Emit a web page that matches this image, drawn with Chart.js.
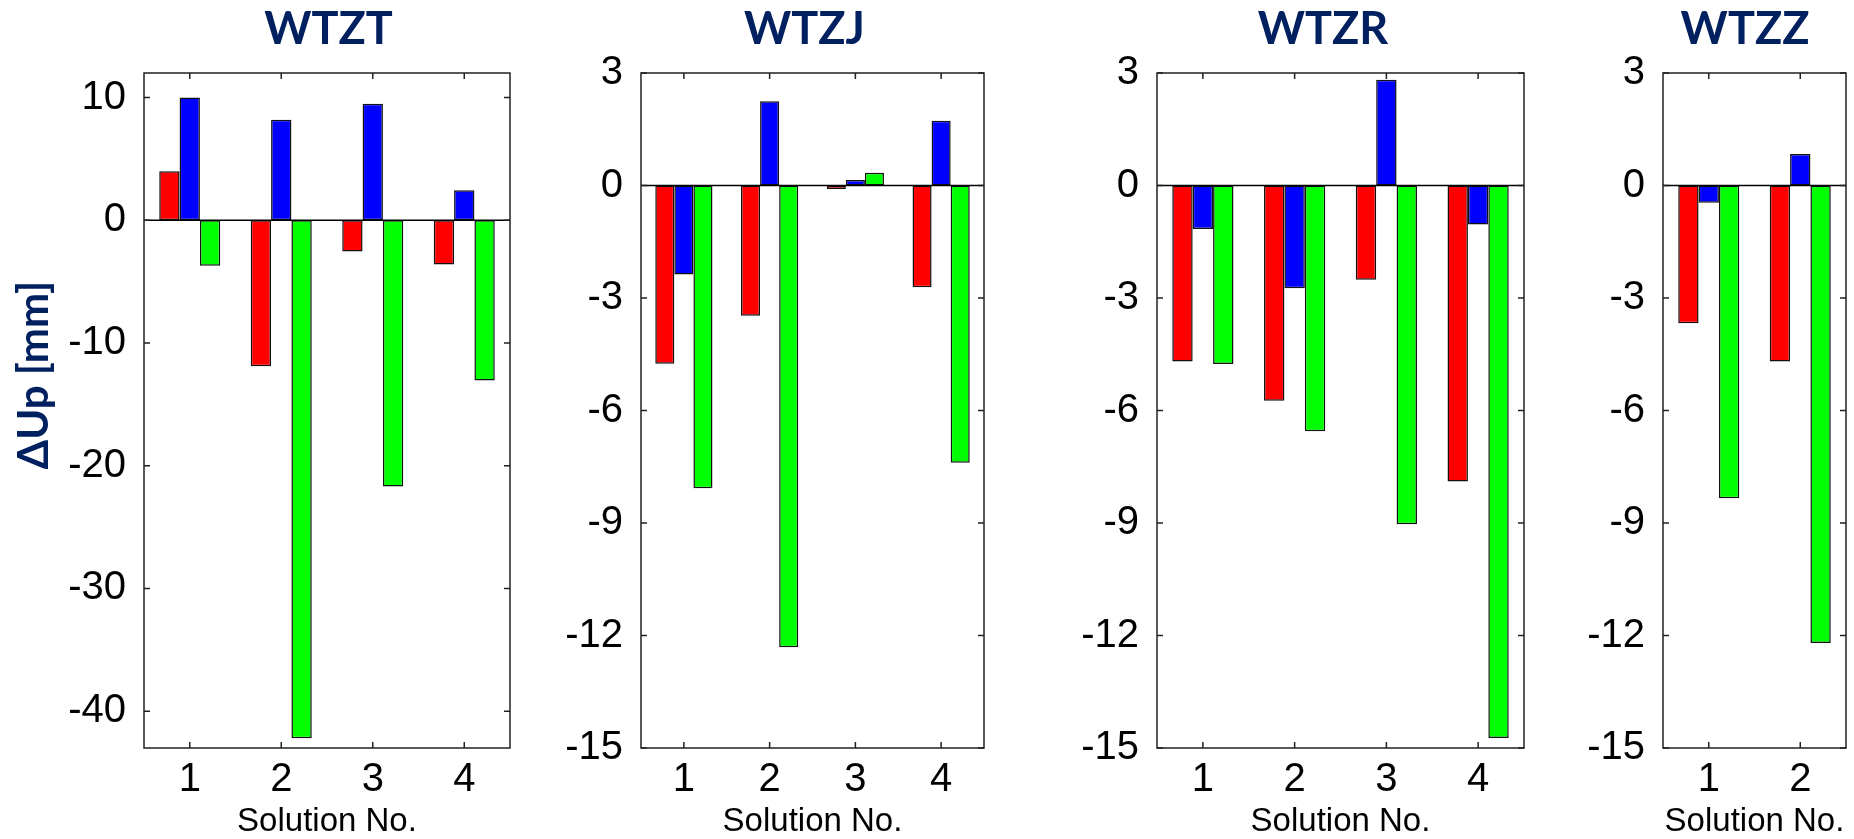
<!DOCTYPE html>
<html>
<head>
<meta charset="utf-8">
<script src="https://cdn.jsdelivr.net/npm/chart.js@4.4.1/dist/chart.umd.min.js"></script>
<style>
html, body { margin: 0; padding: 0; background: #fff; overflow: hidden; width: 1854px; height: 839px; }
canvas { position: absolute; top: 0; }
</style>
</head>
<body>
<canvas id="wtzt" width="588" height="839" style="left:0px"></canvas>
<canvas id="wtzj" width="477" height="839" style="left:566px"></canvas>
<canvas id="wtzr" width="482" height="839" style="left:1082px"></canvas>
<canvas id="wtzz" width="314" height="839" style="left:1588px"></canvas>
<script>
// values, mm
var solutions4 = ['1', '2', '3', '4'];
var solutions2 = ['1', '2'];

var wtztRed = [4.0, -11.9, -2.55, -3.6];
var wtztBlue = [10.0, 8.2, 9.5, 2.45];
var wtztGreen = [-3.7, -42.2, -21.7, -13.05];

var wtzjRed = [-4.75, -3.47, -0.09, -2.71];
var wtzjBlue = [-2.37, 2.25, 0.15, 1.73];
var wtzjGreen = [-8.07, -12.31, 0.34, -7.39];

var wtzrRed = [-4.69, -5.74, -2.51, -7.89];
var wtzrBlue = [-1.16, -2.74, 2.82, -1.04];
var wtzrGreen = [-4.76, -6.55, -9.03, -14.73];

var wtzzRed = [-3.67, -4.69];
var wtzzBlue = [-0.46, 0.84];
var wtzzGreen = [-8.34, -12.2];

var ticksBig = [-40, -30, -20, -10, 0, 10];
var ticksSmall = [-15, -12, -9, -6, -3, 0, 3];

var navy = '#002060';
var tickFont = '"Liberation Sans", Arial, sans-serif';
var titleFont = 'Lato, "Noto Sans", sans-serif';

// box around the plot, inward ticks on all four sides, baseline at zero
var framePlugin = {
	id: 'frame',
	afterDatasetsDraw: function(chart) {
		var ctx = chart.ctx, a = chart.chartArea, xs = chart.scales.x, ys = chart.scales.y;
		ctx.save();
		ctx.strokeStyle = '#000';
		ctx.lineWidth = 1.5;
		var y0 = ys.getPixelForValue(0);
		ctx.beginPath();
		ctx.moveTo(a.left, y0);
		ctx.lineTo(a.right, y0);
		ctx.stroke();

		ctx.strokeStyle = '#222';
		ctx.strokeRect(a.left, a.top, a.right - a.left, a.bottom - a.top);
		ctx.beginPath();
		ys.ticks.forEach(function(t) {
			var py = ys.getPixelForValue(t.value);
			ctx.moveTo(a.left, py); ctx.lineTo(a.left + 6, py);
			ctx.moveTo(a.right, py); ctx.lineTo(a.right - 6, py);
		});
		xs.ticks.forEach(function(t, i) {
			var px = xs.getPixelForTick(i);
			ctx.moveTo(px, a.bottom); ctx.lineTo(px, a.bottom - 6);
			ctx.moveTo(px, a.top); ctx.lineTo(px, a.top + 6);
		});
		ctx.stroke();
		ctx.restore();
	}
};

var yLabelPlugin = {
	id: 'ylabel',
	afterDraw: function(chart) {
		var ctx = chart.ctx;
		ctx.save();
		ctx.translate(34, 375);
		ctx.rotate(-Math.PI / 2);
		ctx.font = 'bold 42px ' + titleFont;
		ctx.fillStyle = navy;
		ctx.textAlign = 'center';
		ctx.textBaseline = 'middle';
		ctx.fillText('\u0394Up [mm]', 0, 0);
		ctx.restore();
	}
};

function bars(data, color) {
	return {
		data: data,
		backgroundColor: color,
		borderColor: '#111',
		borderWidth: 1.5,
		borderSkipped: false,
		categoryPercentage: 0.667,
		barPercentage: 1.0
	};
}

// padLeft + axisWidth puts the plot's left edge, spareRight is an empty axis on the right
// so that the title (centred on the whole width) lands where it does in the figure
function makeChart(id, title, labels, red, blue, green, yMin, yMax, yTicks, padLeft, axisWidth, spareRight, extra) {
	var ctx = document.getElementById(id).getContext('2d');
	return new Chart(ctx, {
		type: 'bar',
		data: {
			labels: labels,
			datasets: [bars(red, '#ff0000'), bars(blue, '#0000ff'), bars(green, '#00ff00')]
		},
		options: {
			responsive: false,
			animation: false,
			layout: { padding: { left: padLeft, right: 0, top: 0, bottom: 0 } },
			plugins: {
				legend: { display: false },
				tooltip: { enabled: false },
				title: {
					display: true,
					text: title,
					color: navy,
					font: { family: titleFont, size: 45, weight: 'bold', lineHeight: 1 },
					padding: { top: 7, bottom: 21 }
				}
			},
			scales: {
				x: {
					grid: { display: false },
					border: { display: false },
					ticks: { color: '#000', font: { family: tickFont, size: 40 }, padding: 0, maxRotation: 0 },
					title: {
						display: true,
						text: 'Solution No.',
						color: '#000',
						font: { family: tickFont, size: 33, lineHeight: 1 },
						padding: { top: 0, bottom: 1 }
					},
					afterFit: function(s) { s.height = 91; }
				},
				y: {
					min: yMin,
					max: yMax,
					grid: { display: false },
					border: { display: false },
					ticks: { color: '#000', font: { family: tickFont, size: 40 }, padding: 10 },
					afterBuildTicks: function(s) {
						s.ticks = yTicks.map(function(v) { return { value: v }; });
					},
					afterFit: function(s) { s.width = axisWidth; }
				},
				spare: {
					axis: 'y',
					position: 'right',
					grid: { display: false },
					border: { display: false },
					ticks: { display: false },
					afterFit: function(s) { s.width = spareRight; }
				}
			}
		},
		plugins: extra ? [framePlugin, extra] : [framePlugin]
	});
}

makeChart('wtzt', 'WTZT', solutions4, wtztRed, wtztBlue, wtztGreen, -43, 12, ticksBig, 69, 75, 78, yLabelPlugin);
makeChart('wtzj', 'WTZJ', solutions4, wtzjRed, wtzjBlue, wtzjGreen, -15, 3, ticksSmall, 0, 75, 59);
makeChart('wtzr', 'WTZR', solutions4, wtzrRed, wtzrBlue, wtzrGreen, -15, 3, ticksSmall, 0, 75, 40);
makeChart('wtzz', 'WTZZ', solutions2, wtzzRed, wtzzBlue, wtzzGreen, -15, 3, ticksSmall, 0, 75, 56);
</script>
</body>
</html>
